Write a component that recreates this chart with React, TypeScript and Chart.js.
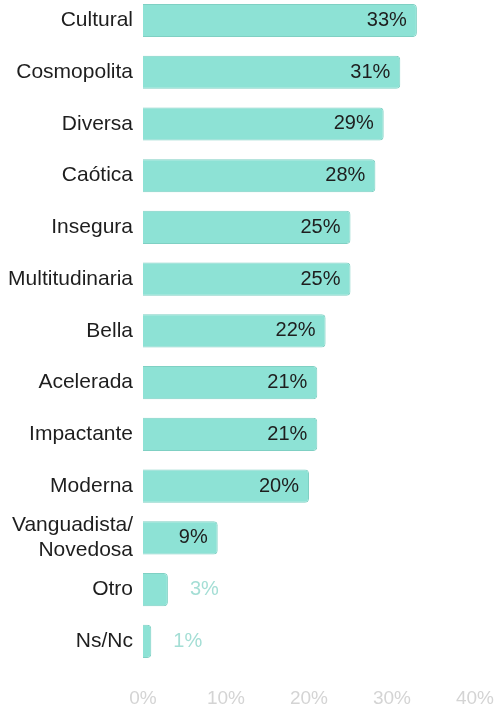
import React, { useEffect, useRef } from "react";
import { Chart, registerables } from "chart.js";

Chart.register(...registerables);

const categories: (string | string[])[] = [
  "Cultural",
  "Cosmopolita",
  "Diversa",
  "Caótica",
  "Insegura",
  "Multitudinaria",
  "Bella",
  "Acelerada",
  "Impactante",
  "Moderna",
  ["Vanguadista/", "Novedosa"],
  "Otro",
  "Ns/Nc",
];

const values: number[] = [33, 31, 29, 28, 25, 25, 22, 21, 21, 20, 9, 3, 1];

const xTicks: number[] = [0, 10, 20, 30, 40];

const FONT = "'Liberation Sans', Arial, sans-serif";

const valueLabelPlugin = {
  id: "valueLabels",
  afterDatasetsDraw(chart: any) {
    const ctx = chart.ctx;
    const meta = chart.getDatasetMeta(0);
    ctx.save();
    ctx.font = `20px ${FONT}`;
    ctx.textBaseline = "middle";
    meta.data.forEach((bar: any, i: number) => {
      const v = values[i];
      const text = `${v}%`;
      if (v >= 5) {
        ctx.fillStyle = "#1e1e1e";
        ctx.textAlign = "right";
        ctx.fillText(text, bar.x - 10, bar.y);
      } else {
        ctx.fillStyle = "#a4ded5";
        ctx.textAlign = "left";
        ctx.fillText(text, bar.x + 22, bar.y);
      }
    });
    ctx.restore();
  },
};

export default function App() {
  const ref = useRef<HTMLCanvasElement>(null);

  useEffect(() => {
    if (!ref.current) return;
    const chart = new Chart(ref.current, {
      type: "bar",
      data: {
        labels: categories,
        datasets: [
          {
            data: values,
            backgroundColor: "#8de2d5",
            borderColor: "#7fd0c3",
            borderWidth: 1,
            borderRadius: 4,
            borderSkipped: "start",
            categoryPercentage: 1,
            barPercentage: 0.64,
          },
        ],
      },
      options: {
        indexAxis: "y",
        animation: false,
        responsive: false,
        maintainAspectRatio: false,
        layout: { padding: { left: 0, right: 0, top: 0, bottom: 0 } },
        plugins: {
          legend: { display: false },
          tooltip: { enabled: false },
        },
        scales: {
          x: {
            min: 0,
            max: 40,
            afterBuildTicks: (axis: any) => {
              axis.ticks = xTicks.map((v) => ({ value: v }));
            },
            afterFit: (axis: any) => {
              axis.paddingRight = 22;
              axis.paddingLeft = 0;
            },
            grid: { display: false, drawTicks: false },
            border: { display: false },
            ticks: {
              padding: 20,
              color: "#d4d4d4",
              font: { family: FONT, size: 19 },
              callback: (v: any) => `${v}%`,
            },
          },
          y: {
            afterFit: (axis: any) => {
              axis.width = 143;
            },
            grid: { display: false, drawTicks: false },
            border: { display: false },
            ticks: {
              autoSkip: false,
              padding: 10,
              color: "#1e1e1e",
              font: { family: FONT, size: 21 },
            },
          },
        },
      },
      plugins: [valueLabelPlugin],
    });
    return () => chart.destroy();
  }, []);

  return (
    <div style={{ position: "fixed", left: 0, top: -28, width: 497, height: 758 }}>
      <canvas ref={ref} width={497} height={758} style={{ width: 497, height: 758 }} />
    </div>
  );
}
